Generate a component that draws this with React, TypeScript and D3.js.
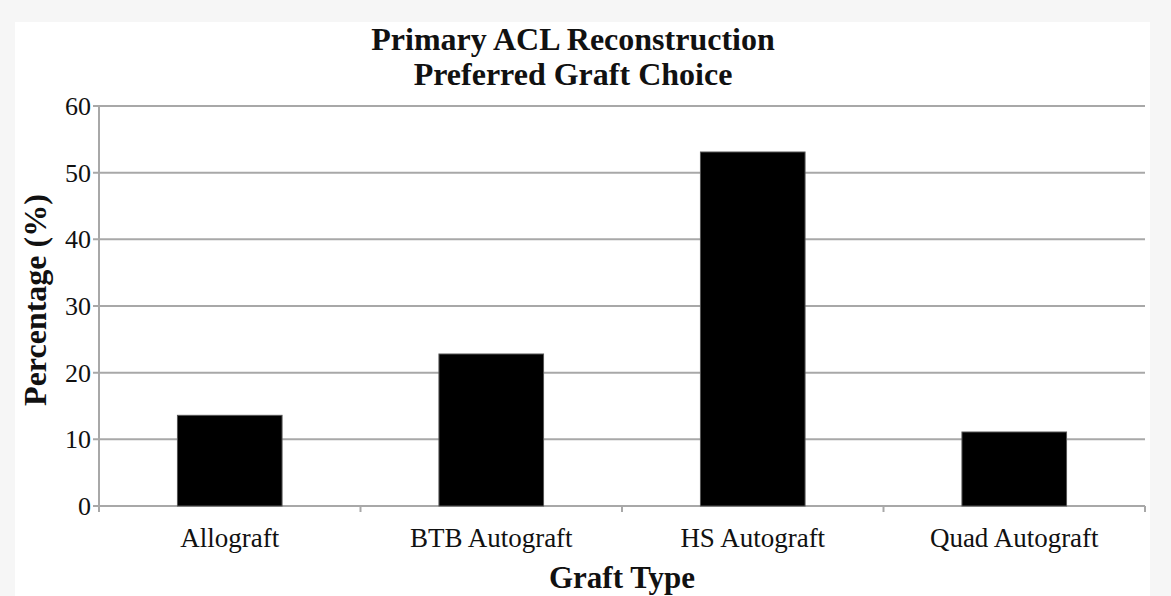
import React, { useEffect, useRef } from 'react';
import * as d3 from 'd3';

const categories = ['Allograft', 'BTB Autograft', 'HS Autograft', 'Quad Autograft'];
const percentages = [13.6, 22.8, 53.1, 11.1];
const yTicks = [0, 10, 20, 30, 40, 50, 60];
const titleLines = ['Primary ACL Reconstruction', 'Preferred Graft Choice'];

const App: React.FC = () => {
  const svgRef = useRef<SVGSVGElement>(null);

  useEffect(() => {
    if (!svgRef.current) return;
    const width = 1171;
    const height = 596;
    const font = '"Liberation Serif", "Times New Roman", serif';

    d3.select(svgRef.current).selectAll('*').remove();
    const svg = d3.select(svgRef.current)
      .attr('width', width)
      .attr('height', height);

    // page background + white panel
    svg.append('rect').attr('width', width).attr('height', height).attr('fill', '#f6f6f6');
    svg.append('rect')
      .attr('x', 15).attr('y', 22)
      .attr('width', 1135).attr('height', height - 22)
      .attr('fill', '#ffffff');

    const margin = { top: 106, right: 26, bottom: 90, left: 99 };
    const innerWidth = width - margin.left - margin.right;
    const innerHeight = height - margin.top - margin.bottom;

    const g = svg.append('g')
      .attr('transform', `translate(${margin.left},${margin.top})`);

    const xScale = d3.scaleBand()
      .domain(categories)
      .range([0, innerWidth])
      .paddingInner(0.6)
      .paddingOuter(0.3);

    const band = d3.scaleBand().domain(categories).range([0, innerWidth]);

    const yScale = d3.scaleLinear()
      .domain([0, 60])
      .range([innerHeight, 0]);

    const gridColor = '#a8a8a8';

    // gridlines
    yTicks.forEach(t => {
      g.append('line')
        .attr('x1', -6)
        .attr('x2', innerWidth)
        .attr('y1', yScale(t))
        .attr('y2', yScale(t))
        .attr('stroke', gridColor)
        .attr('stroke-width', 2);

      g.append('text')
        .attr('x', -8)
        .attr('y', yScale(t))
        .attr('dy', '0.35em')
        .attr('text-anchor', 'end')
        .style('font-family', font)
        .style('font-size', '26px')
        .style('fill', '#111')
        .text(t);
    });

    // y axis line
    g.append('line')
      .attr('x1', 0).attr('x2', 0)
      .attr('y1', 0).attr('y2', innerHeight + 6)
      .attr('stroke', gridColor)
      .attr('stroke-width', 2);

    // x ticks at category boundaries
    categories.forEach(c => {
      const bx = band(c)! + band.bandwidth();
      g.append('line')
        .attr('x1', bx).attr('x2', bx)
        .attr('y1', innerHeight).attr('y2', innerHeight + 6)
        .attr('stroke', gridColor)
        .attr('stroke-width', 2);
    });

    // bars
    categories.forEach((c, i) => {
      g.append('rect')
        .attr('x', xScale(c)!)
        .attr('y', yScale(percentages[i]))
        .attr('width', xScale.bandwidth())
        .attr('height', innerHeight - yScale(percentages[i]))
        .attr('fill', '#000')
        .attr('stroke', '#555')
        .attr('stroke-width', 1);

      g.append('text')
        .attr('x', band(c)! + band.bandwidth() / 2)
        .attr('y', innerHeight + 41)
        .attr('text-anchor', 'middle')
        .style('font-family', font)
        .style('font-size', '27px')
        .style('fill', '#111')
        .text(c);
    });

    // title
    titleLines.forEach((line, i) => {
      svg.append('text')
        .attr('x', 573)
        .attr('y', 50 + i * 35)
        .attr('text-anchor', 'middle')
        .style('font-family', font)
        .style('font-size', '32px')
        .style('font-weight', 'bold')
        .style('fill', '#111')
        .text(line);
    });

    // x axis title
    svg.append('text')
      .attr('x', 622)
      .attr('y', 588)
      .attr('text-anchor', 'middle')
      .style('font-family', font)
      .style('font-size', '31px')
      .style('font-weight', 'bold')
      .style('fill', '#111')
      .text('Graft Type');

    // y axis title
    svg.append('text')
      .attr('transform', 'translate(46,300) rotate(-90)')
      .attr('text-anchor', 'middle')
      .style('font-family', font)
      .style('font-size', '32px')
      .style('font-weight', 'bold')
      .style('fill', '#111')
      .text('Percentage (%)');
  }, []);

  return <svg ref={svgRef} style={{ position: 'absolute', left: 0, top: 0, display: 'block' }} />;
};

export default App;
